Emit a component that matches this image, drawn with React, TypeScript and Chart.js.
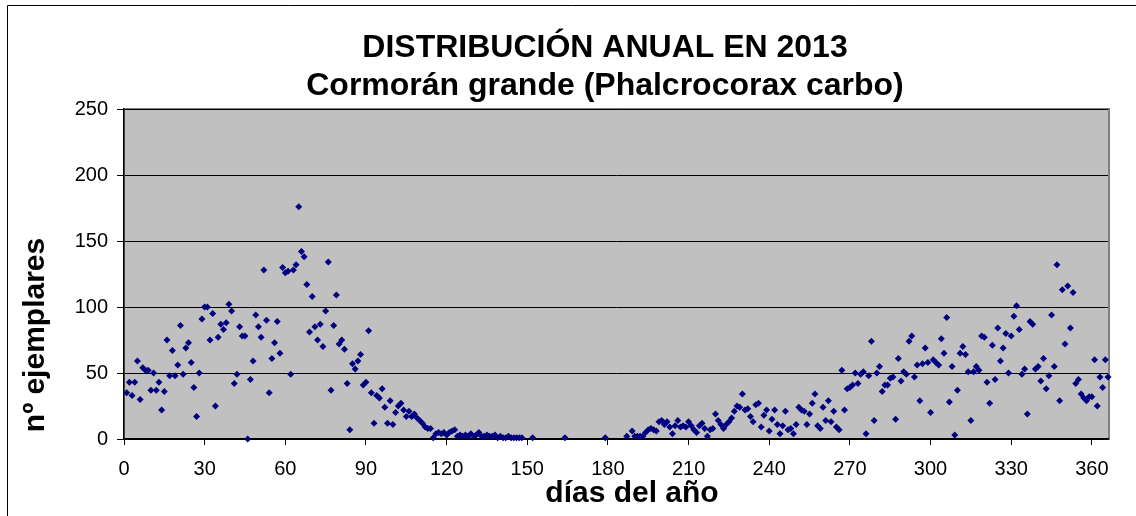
import React, { useEffect, useRef } from "react";
import { Chart, registerables } from "chart.js";

Chart.register(...registerables);

const TITLE_LINES = ["DISTRIBUCIÓN ANUAL EN 2013", "Cormorán grande (Phalcrocorax carbo)"];
const X_TITLE = "días del año";
const Y_TITLE = "nº ejemplares";
const X_TICKS = [0, 30, 60, 90, 120, 150, 180, 210, 240, 270, 300, 330, 360];
const Y_TICKS = [0, 50, 100, 150, 200, 250];

const DAYS = [
  1, 2, 3, 4, 5, 6, 7, 8, 9, 10, 11, 12, 13, 14, 15, 16, 17, 18, 19, 20,
  21, 22, 23, 24, 25, 26, 27, 28, 29, 30, 31, 32, 33, 34, 35, 36, 37, 38, 39, 40,
  41, 42, 43, 44, 45, 46, 47, 48, 49, 50, 51, 52, 53, 54, 55, 56, 57, 58, 59, 60,
  61, 62, 63, 64, 65, 66, 67, 68, 69, 70, 71, 72, 73, 74, 75, 76, 77, 78, 79, 80,
  81, 82, 83, 84, 85, 86, 87, 88, 89, 90, 91, 92, 93, 94, 95, 96, 97, 98, 99, 100,
  101, 102, 103, 104, 105, 106, 107, 108, 109, 110, 111, 112, 113, 114, 115, 116, 117, 118, 119, 120,
  121, 122, 123, 124, 125, 126, 127, 128, 129, 130, 131, 132, 133, 134, 135, 136, 137, 138, 139, 140,
  141, 142, 143, 144, 145, 146, 147, 148, 152, 164, 179,
  187, 189, 190, 191, 192, 193, 194, 195, 196, 197, 198, 199, 200,
  201, 202, 203, 204, 205, 206, 207, 208, 209, 210, 211, 212, 213, 214, 215, 216, 217, 218, 219, 220,
  221, 222, 223, 224, 225, 226, 227, 228, 229, 230, 231, 232, 233, 234, 235, 236, 237, 238, 239, 240,
  241, 242, 243, 244, 245, 246, 247, 248, 249, 250, 251, 252, 253, 254, 255, 256, 257, 258, 259, 260,
  261, 262, 263, 264, 265, 266, 267, 268, 269, 270, 271, 272, 273, 274, 275, 276, 277, 278, 279, 280,
  281, 282, 283, 284, 285, 286, 287, 288, 289, 290, 291, 292, 293, 294, 295, 296, 297, 298, 299, 300,
  301, 302, 303, 304, 305, 306, 307, 308, 309, 310, 311, 312, 313, 314, 315, 316, 317, 318, 319, 320,
  321, 322, 323, 324, 325, 326, 327, 328, 329, 330, 331, 332, 333, 334, 335, 336, 337, 338, 339, 340,
  341, 342, 343, 344, 345, 346, 347, 348, 349, 350, 351, 352, 353, 354, 355, 356, 357, 358, 359, 360,
  361, 362, 363, 364, 365, 366,
];

const COUNTS = [
  35, 43, 33, 43, 59, 30, 54, 52, 52, 37, 50, 37, 43, 22, 36, 75, 48, 67, 48, 56,
  86, 49, 69, 73, 58, 39, 17, 50, 91, 100, 100, 75, 95, 25, 77, 87, 83, 88, 102, 97,
  42, 49, 85, 78, 78, 0, 45, 59, 94, 85, 77, 128, 90, 35, 61, 73, 89, 65, 130, 126,
  127, 49, 128, 132, 176, 142, 138, 117, 81, 108, 85, 75, 87, 70, 97, 134, 37, 86, 109, 72,
  75, 68, 42, 7, 57, 53, 59, 64, 41, 43, 82, 35, 12, 33, 31, 38, 24, 12, 29, 11,
  20, 25, 27, 22, 17, 21, 17, 19, 16, 14, 12, 9, 8, 8, 1, 4, 5, 4, 5, 3,
  5, 6, 7, 2, 3, 2, 3, 2, 4, 2, 3, 5, 2, 2, 3, 2, 2, 3, 1, 2,
  1, 1, 2, 1, 1, 1, 1, 1, 1, 1, 1,
  2, 6, 2, 2, 2, 2, 5, 7, 8, 7, 6, 13, 14,
  11, 13, 9, 4, 10, 14, 9, 10, 9, 13, 10, 7, 5, 10, 12, 8, 2, 7, 8, 19,
  14, 11, 8, 11, 13, 16, 21, 25, 24, 34, 22, 23, 17, 13, 26, 27, 9, 18, 22, 6,
  15, 22, 11, 4, 10, 21, 7, 8, 4, 11, 24, 22, 21, 11, 19, 27, 34, 10, 8, 24,
  14, 29, 13, 21, 9, 7, 52, 22, 38, 39, 41, 50, 42, 49, 51, 4, 48, 74, 14, 50,
  55, 36, 41, 41, 46, 47, 15, 61, 44, 51, 49, 74, 78, 47, 56, 29, 57, 69, 58, 20,
  60, 58, 56, 76, 65, 92, 28, 55, 3, 37, 65, 70, 64, 51, 14, 51, 55, 52, 78, 77,
  43, 27, 71, 45, 84, 59, 69, 80, 50, 78, 93, 101, 83, 49, 53, 19, 89, 87, 53, 55,
  44, 61, 38, 48, 94, 55, 132, 29, 113, 72, 116, 84, 111, 42, 45, 34, 31, 29, 32, 32,
  60, 25, 47, 39, 60, 47,
];

const FONT = '"Liberation Sans", Arial, Helvetica, sans-serif';

const decorPlugin = {
  id: "decor",
  beforeDraw(chart: any) {
    const { ctx, chartArea: a } = chart;
    ctx.save();
    ctx.fillStyle = "#ffffff";
    ctx.fillRect(0, 0, chart.width, chart.height);
    ctx.strokeStyle = "#000000";
    ctx.lineWidth = 1;
    ctx.beginPath();
    ctx.moveTo(7.5, chart.height);
    ctx.lineTo(7.5, 5.5);
    ctx.lineTo(chart.width, 5.5);
    ctx.stroke();
    ctx.fillStyle = "#C0C0C0";
    ctx.fillRect(a.left, a.top, a.right - a.left, a.bottom - a.top);
    ctx.strokeStyle = "#808080";
    ctx.lineWidth = 2;
    ctx.strokeRect(a.left, a.top, a.right - a.left + 1, a.bottom - a.top);
    ctx.restore();
  },
  afterDraw(chart: any) {
    const { ctx } = chart;
    ctx.save();
    ctx.fillStyle = "#000000";
    ctx.textAlign = "center";
    ctx.textBaseline = "alphabetic";
    ctx.font = `bold 32px ${FONT}`;
    ctx.fillText(TITLE_LINES[0], 605, 57);
    ctx.fillText(TITLE_LINES[1], 605, 95);
    ctx.font = `bold 30px ${FONT}`;
    ctx.fillText(X_TITLE, 632, 502);
    ctx.translate(43.5, 335);
    ctx.rotate(-Math.PI / 2);
    ctx.fillText(Y_TITLE, 0, 0);
    ctx.restore();
  },
};

export default function App() {
  const canvasRef = useRef<HTMLCanvasElement | null>(null);

  useEffect(() => {
    const canvas = canvasRef.current;
    if (!canvas) return;
    const points = DAYS.map((d, i) => ({ x: d, y: COUNTS[i] }));
    const chart = new Chart(canvas, {
      type: "scatter",
      data: {
        datasets: [
          {
            label: "Cormorán grande",
            data: points,
            pointStyle: "rectRot",
            pointRadius: 3.5,
            pointBorderWidth: 0,
            backgroundColor: "#000080",
            borderColor: "#000080",
            clip: false as any,
          },
        ],
      },
      options: {
        animation: false,
        responsive: false,
        devicePixelRatio: 1,
        layout: { padding: { top: 109, right: 28, bottom: 0, left: 0 } },
        plugins: {
          legend: { display: false },
          tooltip: { enabled: false },
          title: { display: false },
        },
        scales: {
          x: {
            type: "linear",
            min: 0,
            max: 366,
            afterFit: (s: any) => {
              s.height = 77;
            },
            afterBuildTicks: (s: any) => {
              s.ticks = X_TICKS.map((v) => ({ value: v }));
            },
            ticks: {
              font: { family: FONT, size: 20 },
              color: "#000000",
              padding: 12,
              maxRotation: 0,
              autoSkip: false,
            },
            grid: {
              drawOnChartArea: false,
              drawTicks: true,
              tickLength: 6,
              tickColor: "#000000",
              color: "#000000",
            },
            border: { display: true, color: "#000000", width: 1.5 },
          },
          y: {
            type: "linear",
            min: 0,
            max: 250,
            afterFit: (s: any) => {
              s.width = 124;
            },
            afterBuildTicks: (s: any) => {
              s.ticks = Y_TICKS.map((v) => ({ value: v }));
            },
            ticks: {
              font: { family: FONT, size: 20 },
              color: "#000000",
              padding: 9,
              autoSkip: false,
            },
            grid: {
              drawOnChartArea: true,
              drawTicks: true,
              tickLength: 7,
              tickColor: "#000000",
              color: "#000000",
              lineWidth: 1,
            },
            border: { display: true, color: "#000000", width: 1.5 },
          },
        },
      },
      plugins: [decorPlugin],
    });
    return () => chart.destroy();
  }, []);

  return (
    <div style={{ position: "fixed", left: 0, top: 0, width: 1136, height: 516, background: "#fff" }}>
      <canvas ref={canvasRef} width={1136} height={516} style={{ width: 1136, height: 516, display: "block" }} />
    </div>
  );
}
